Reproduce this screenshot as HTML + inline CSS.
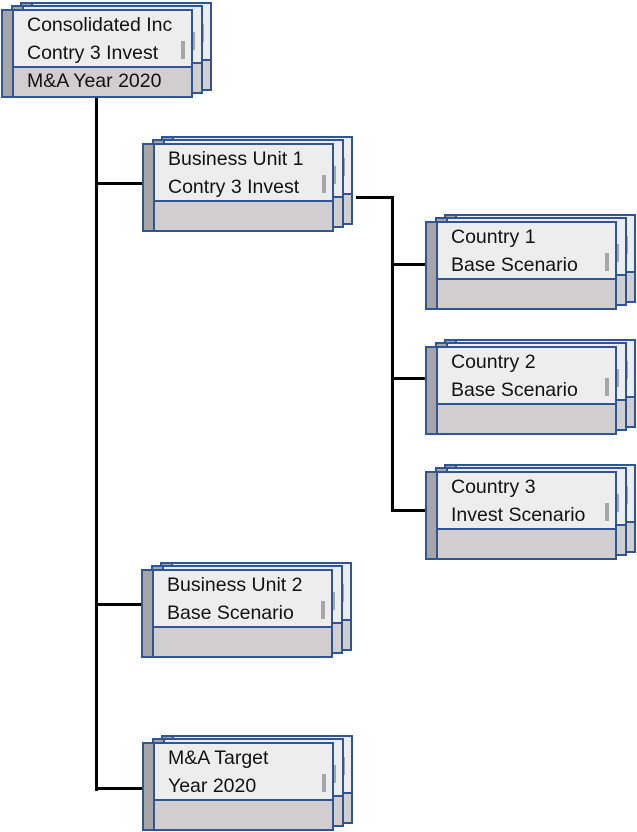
<!DOCTYPE html>
<html><head><meta charset="utf-8"><style>
body{margin:0;width:637px;height:832px;background:#fff;position:relative;overflow:hidden;font-family:"Liberation Sans",Arial,sans-serif}
.n{position:absolute;width:192px;height:89px}
.c{position:absolute;width:192px;height:89px;box-sizing:border-box;border:2px solid #2f5597;background:#ededed}
.c::before{content:"";position:absolute;left:0;top:0;bottom:0;width:9px;background:#a6a6a6;border-right:2px solid #2f5597}
.c .b{position:absolute;left:11px;right:0;bottom:0;height:28px;background:#d0cece;border-top:2px solid #2f5597}
.c .s{position:absolute;right:6px;top:30px;width:4px;height:18px;background:#a6a6a6}
.c1{left:10px;top:-4px}.c2{left:19px;top:-7px}
.c0{left:0;top:0}
.t{position:absolute;left:24px;top:0px;font-size:19.5px;line-height:28px;color:#111;white-space:nowrap}
.t2{position:absolute;left:24px;bottom:1px;font-size:19.5px;line-height:28px;color:#111;white-space:nowrap}
.l{position:absolute;background:#000}
</style></head><body>
<div class="l" style="left:95px;top:98px;width:3px;height:693px"></div>
<div class="l" style="left:95px;top:182px;width:47px;height:3px"></div>
<div class="l" style="left:95px;top:603px;width:46px;height:3px"></div>
<div class="l" style="left:95px;top:787px;width:47px;height:3px"></div>
<div class="l" style="left:356px;top:196px;width:37px;height:3px"></div>
<div class="l" style="left:391px;top:196px;width:3px;height:316px"></div>
<div class="l" style="left:391px;top:263px;width:34px;height:3px"></div>
<div class="l" style="left:391px;top:377px;width:34px;height:3px"></div>
<div class="l" style="left:391px;top:509px;width:34px;height:3px"></div>

<div class="n" style="left:1px;top:9px"><div class="c c2"><div class="b"></div><div class="s" style="top:20px"></div></div><div class="c c1"><div class="b"></div><div class="s" style="top:25px"></div></div><div class="c c0"><div class="b"></div><div class="s"></div><div class="t">Consolidated Inc<br>Contry 3 Invest</div><div class="t2">M&amp;A Year 2020</div></div></div>

<div class="n" style="left:142px;top:143px"><div class="c c2"><div class="b"></div><div class="s" style="top:20px"></div></div><div class="c c1"><div class="b"></div><div class="s" style="top:25px"></div></div><div class="c c0"><div class="b"></div><div class="s"></div><div class="t">Business Unit 1<br>Contry 3 Invest</div></div></div>

<div class="n" style="left:425px;top:221px"><div class="c c2"><div class="b"></div><div class="s" style="top:20px"></div></div><div class="c c1"><div class="b"></div><div class="s" style="top:25px"></div></div><div class="c c0"><div class="b"></div><div class="s"></div><div class="t">Country 1<br>Base Scenario</div></div></div>

<div class="n" style="left:425px;top:346px"><div class="c c2"><div class="b"></div><div class="s" style="top:20px"></div></div><div class="c c1"><div class="b"></div><div class="s" style="top:25px"></div></div><div class="c c0"><div class="b"></div><div class="s"></div><div class="t">Country 2<br>Base Scenario</div></div></div>

<div class="n" style="left:425px;top:471px"><div class="c c2"><div class="b"></div><div class="s" style="top:20px"></div></div><div class="c c1"><div class="b"></div><div class="s" style="top:25px"></div></div><div class="c c0"><div class="b"></div><div class="s"></div><div class="t">Country 3<br>Invest Scenario</div></div></div>

<div class="n" style="left:141px;top:569px"><div class="c c2"><div class="b"></div><div class="s" style="top:20px"></div></div><div class="c c1"><div class="b"></div><div class="s" style="top:25px"></div></div><div class="c c0"><div class="b"></div><div class="s"></div><div class="t">Business Unit 2<br>Base Scenario</div></div></div>

<div class="n" style="left:142px;top:742px"><div class="c c2"><div class="b"></div><div class="s" style="top:20px"></div></div><div class="c c1"><div class="b"></div><div class="s" style="top:25px"></div></div><div class="c c0"><div class="b"></div><div class="s"></div><div class="t">M&amp;A Target<br>Year 2020</div></div></div>
</body></html>
